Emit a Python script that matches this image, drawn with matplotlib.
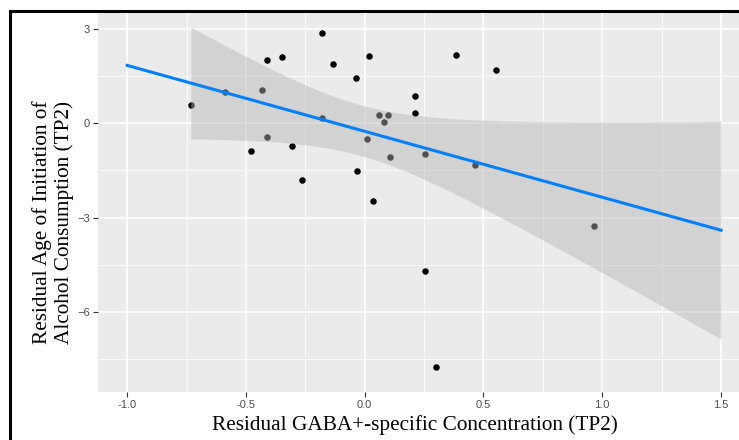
import numpy as np
import matplotlib.pyplot as plt
from matplotlib.patches import Rectangle

# residual GABA+ (x) vs residual age of initiation (y)
gaba = [-0.732, -0.590, -0.434, -0.412, -0.347, -0.180, -0.132, -0.037, 0.017,
        -0.180, -0.410, -0.308, -0.480, -0.034, -0.265,
        0.386, 0.551, 0.212, 0.212, 0.061, 0.098, 0.080, 0.011, 0.105,
        0.254, 0.466, 0.035, 0.964, 0.252, 0.299]
age = [0.57, 1.00, 1.05, 2.02, 2.10, 2.87, 1.89, 1.45, 2.14,
       0.17, -0.43, -0.72, -0.88, -1.52, -1.80,
       2.16, 1.70, 0.87, 0.33, 0.27, 0.27, 0.03, -0.51, -1.08,
       -0.97, -1.32, -2.48, -3.27, -4.70, -7.77]

xticks = [-1.0, -0.5, 0.0, 0.5, 1.0, 1.5]
yticks = [-6, -3, 0, 3]
line_range = (-1.0, 1.5)

x = np.array(gaba)
y = np.array(age)
n = len(x)
slope, icept = np.polyfit(x, y, 1)
resid = y - (icept + slope * x)
s = np.sqrt(np.sum(resid ** 2) / (n - 2))
sxx = np.sum((x - x.mean()) ** 2)
tval = 2.048  # t(0.975, df=28)

xl = np.linspace(line_range[0], line_range[1], 100)
yl = icept + slope * xl
xb = np.linspace(x.min(), line_range[1], 100)
yb = icept + slope * xb
hw = tval * s * np.sqrt(1 / n + (xb - x.mean()) ** 2 / sxx)

fig = plt.figure(figsize=(7.39, 4.40), dpi=100)
ax = fig.add_axes([97.5 / 739, 48 / 440, (750.7 - 97.5) / 739, (428 - 48) / 440])
ax.set_facecolor('#EBEBEB')

ax.scatter(x, y, s=22, color='black', zorder=3, linewidths=0)
ax.fill_between(xb, yb - hw, yb + hw, color='#B5B5B5', alpha=0.45, linewidth=0, zorder=4)
ax.plot(xl, yl, color='#0080FF', lw=2.2, zorder=5)

ax.set_xlim(-1.125, 1.625)
ax.set_ylim(-8.55, 3.54)
ax.set_xticks(xticks)
ax.set_xticklabels(['-1.0', '-0.5', '0.0', '0.5', '1.0', '1.5'])
ax.set_yticks(yticks)
ax.set_xticks([-0.75, -0.25, 0.25, 0.75, 1.25], minor=True)
ax.set_yticks([-7.5, -4.5, -1.5, 1.5], minor=True)
ax.grid(which='major', color='white', lw=1.1, zorder=1)
ax.grid(which='minor', color='white', lw=0.55, zorder=1)
ax.set_axisbelow(True)
for sp in ax.spines.values():
    sp.set_visible(False)
ax.tick_params(which='major', length=3.5, width=0.8, color='#333333',
               labelcolor='#4D4D4D', labelsize=8, pad=2)
ax.tick_params(which='minor', length=0)
for lab in ax.get_xticklabels() + ax.get_yticklabels():
    lab.set_family('Liberation Sans')

fig.text(415 / 739, 1 - 425 / 440, 'Residual GABA+-specific Concentration (TP2)',
         family='Liberation Serif', fontsize=15.3, ha='center', va='center')
fig.text(53 / 739, 1 - 222 / 440, 'Residual Age of Initiation of\nAlcohol Consumption (TP2)',
         family='Liberation Serif', fontsize=15.3, ha='center', va='center',
         rotation=90, linespacing=1.15)

fig.patches.append(Rectangle((10 / 739, -0.1), 1.2, 1 - 11 / 440 + 0.1,
                             transform=fig.transFigure, fill=False,
                             edgecolor='black', lw=2.2, zorder=10))

fig.savefig('out.png', dpi=100)
